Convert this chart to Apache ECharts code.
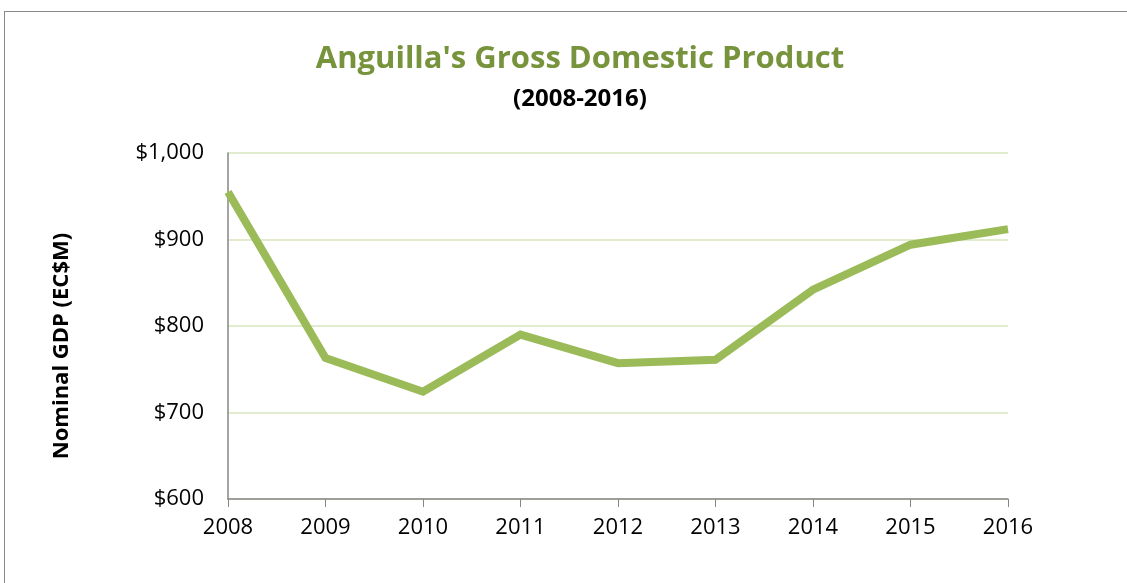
<!DOCTYPE html>
<html>
<head>
<meta charset="utf-8">
<script src="https://cdn.jsdelivr.net/npm/echarts@6/dist/echarts.min.js"></script>
<style>
  html, body { margin: 0; padding: 0; background: #fff; }
  #wrap { position: relative; width: 1127px; height: 583px; overflow: hidden; }
  #frame { position: absolute; left: 4px; top: 11px; width: 1200px; height: 700px; border-left: 1px solid #8a8a8a; border-top: 1px solid #8a8a8a; }
  #chart { position: absolute; left: 0; top: 0; width: 1127px; height: 583px; }
</style>
</head>
<body>
<div id="wrap">
  <div id="frame"></div>
  <div id="chart"></div>
</div>
<script>
const years = ['2008', '2009', '2010', '2011', '2012', '2013', '2014', '2015', '2016'];
const gdp = [955, 763, 724, 790, 757, 761, 842, 894, 912];
const yTicks = [600, 700, 800, 900, 1000];

const font = '"Open Sans", "Liberation Sans", sans-serif';
const chart = echarts.init(document.getElementById('chart'), null, { renderer: 'canvas' });
chart.setOption({
  backgroundColor: 'transparent',
  animation: false,
  title: [
    { text: "Anguilla's Gross Domestic Product", left: 575, textAlign: 'center', top: 39,
      textStyle: { color: '#77933C', fontSize: 31, fontWeight: 'bold', fontFamily: font } },
    { text: '(2008-2016)', left: 575, textAlign: 'center', top: 82,
      textStyle: { color: '#000', fontSize: 24, fontWeight: 'bold', fontFamily: font } }
  ],
  grid: { left: 228, right: 119, top: 153, bottom: 84 },
  xAxis: {
    type: 'category', data: years, boundaryGap: false,
    axisLine: { lineStyle: { color: '#868686', width: 1.5 } },
    axisTick: { show: true, length: 8, lineStyle: { color: '#868686' } },
    axisLabel: { color: '#000', fontSize: 22, fontFamily: font, margin: 18 },
    splitLine: { show: false }
  },
  yAxis: {
    type: 'value', min: yTicks[0], max: yTicks[yTicks.length - 1], interval: 100,
    name: 'Nominal GDP (EC$M)', nameLocation: 'middle', nameGap: 155, nameRotate: 90,
    nameTextStyle: { color: '#000', fontSize: 22, fontWeight: 'bold', fontFamily: font, padding: [0, 40, 0, 0] },
    axisLine: { show: true, lineStyle: { color: '#868686', width: 1.5 } },
    axisTick: { show: false },
    axisLabel: { color: '#000', fontSize: 22, fontFamily: font, margin: 24,
      formatter: v => '$' + v.toLocaleString('en-US') },
    splitLine: { lineStyle: { color: '#D7E4BD', width: 1.5 } }
  },
  series: [{
    type: 'line', data: gdp, symbol: 'none',
    lineStyle: { color: '#9BBB59', width: 8, join: 'miter' }
  }]
});
</script>
</body>
</html>
